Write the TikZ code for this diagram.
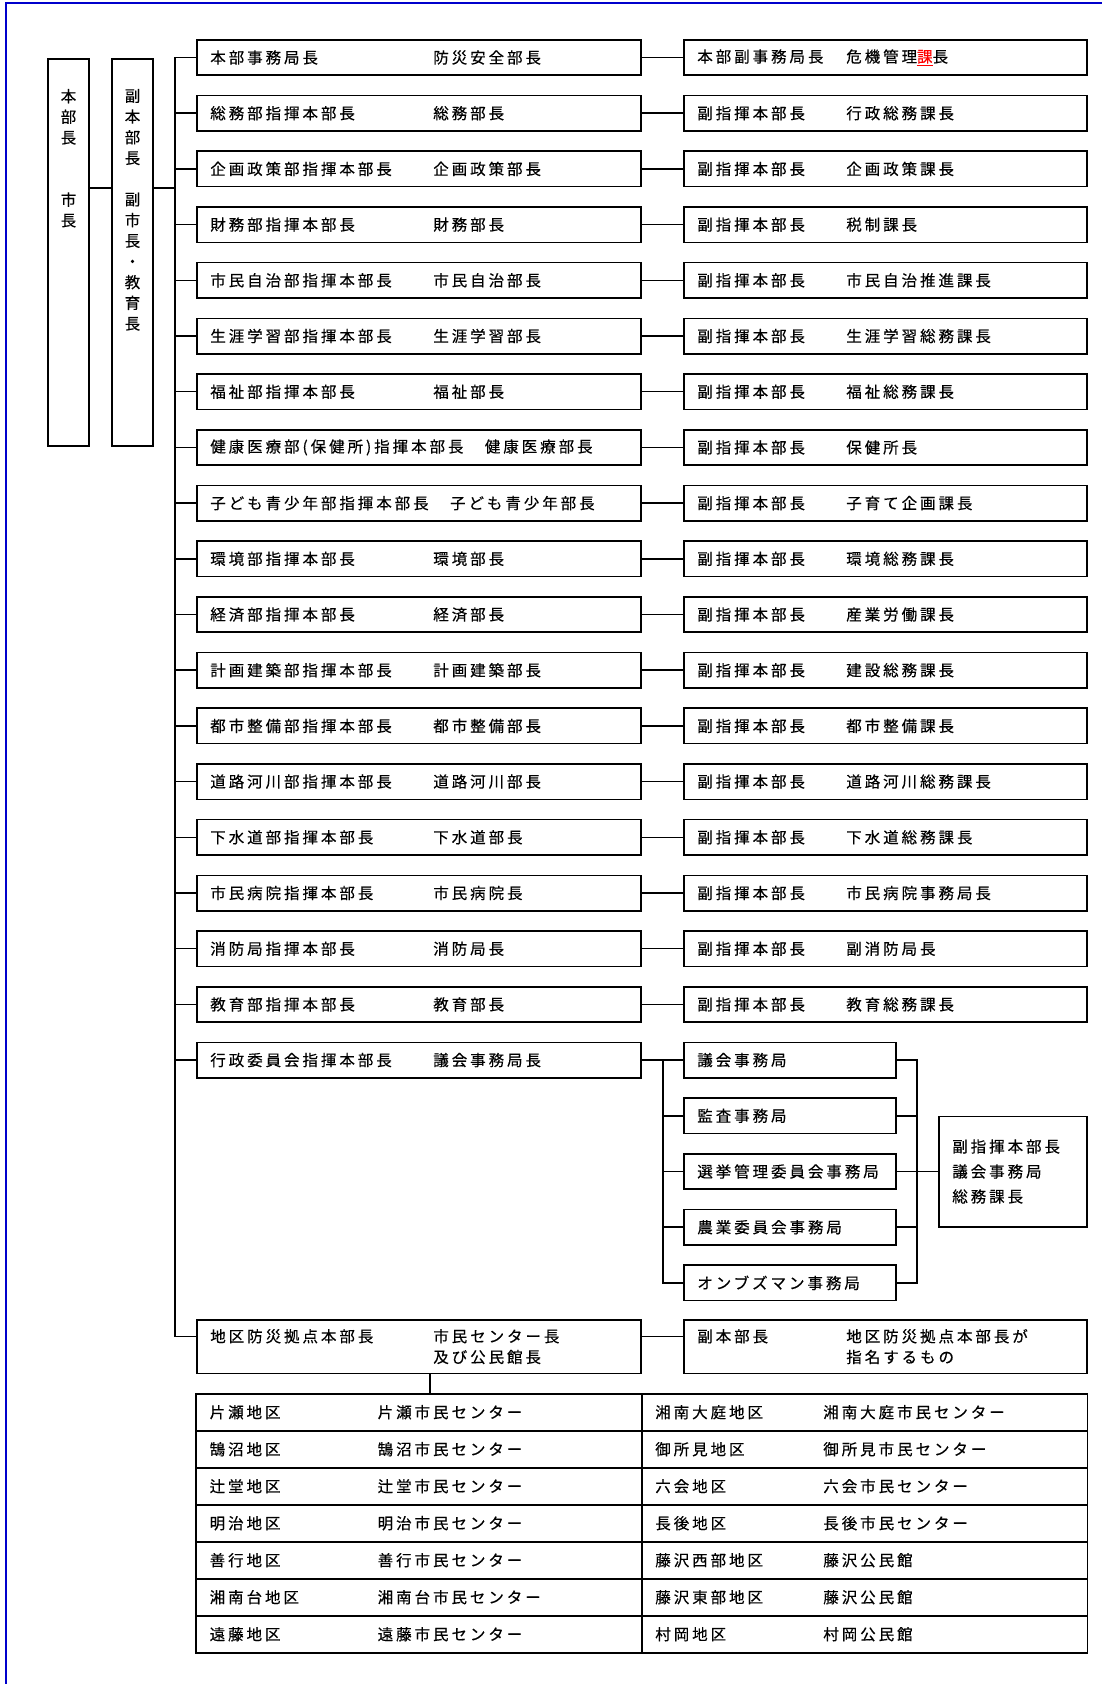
\documentclass[tikz,border=0pt]{standalone}
\usepackage{fontspec}
\newfontfamily\jp[LetterSpace=19,FakeBold=0.4]{Noto Sans CJK JP}
\usetikzlibrary{positioning}

\newcommand{\lpair}[2]{\makebox[223pt][l]{#1}#2}
\newcommand{\rpair}[2]{\makebox[149pt][l]{#1}#2}
\newcommand{\tpair}[2]{\makebox[168pt][l]{#1}#2}

\begin{document}
\begin{tikzpicture}[
  x=1pt, y=-1pt,
  font=\jp\fontsize{15.5}{20.7}\selectfont,
  box/.style={draw, line width=1.6pt, outer sep=0pt, inner ysep=0pt, inner xsep=13.5pt, minimum height=35.4pt, align=left},
  lbox/.style={box, text width=417.4pt},
  rbox/.style={box, text width=376.4pt},
  cbox/.style={box, text width=185.4pt},
  tcell/.style={box, minimum height=37pt, text width=418.6pt},
  vbox/.style={draw, line width=1.6pt, outer sep=0pt, minimum width=41.4pt, minimum height=387.4pt},
  vtext/.style={inner sep=0pt, align=center},
  edge/.style={line width=1.5pt},
  node distance=20.3pt
]
  \useasboundingbox (0,0) rectangle (1102,1684);
  \draw[line width=1.5pt, blue!80!black] (6,1684) |- (1102,3);

  % top of the chain
  \node[vbox] (hq) at (68.5,252.5) {};
  \node[vbox, right=22.6pt of hq] (dep) {};
  \node[vtext, below=30pt of hq.north] (hqtext) {本\\部\\長\\[41.4pt]市\\長};
  \node[vtext, below=30pt of dep.north] (deptext) {副\\本\\部\\長\\[20.7pt]副\\市\\長\\・\\教\\育\\長};
  \coordinate (link) at (0,188);
  \coordinate (trunk) at (175,0);

  % command heads
  \node[lbox, anchor=west] (cmd1) at (196.8,57.5) {\lpair{本部事務局長}{防災安全部長}};
  \node[lbox, below=of cmd1] (cmd2) {\lpair{総務部指揮本部長}{総務部長}};
  \node[lbox, below=of cmd2] (cmd3) {\lpair{企画政策部指揮本部長}{企画政策部長}};
  \node[lbox, below=of cmd3] (cmd4) {\lpair{財務部指揮本部長}{財務部長}};
  \node[lbox, below=of cmd4] (cmd5) {\lpair{市民自治部指揮本部長}{市民自治部長}};
  \node[lbox, below=of cmd5] (cmd6) {\lpair{生涯学習部指揮本部長}{生涯学習部長}};
  \node[lbox, below=of cmd6] (cmd7) {\lpair{福祉部指揮本部長}{福祉部長}};
  \node[lbox, below=of cmd7] (cmd8) {健康医療部(保健所)指揮本部長　健康医療部長};
  \node[lbox, below=of cmd8] (cmd9) {子ども青少年部指揮本部長　子ども青少年部長};
  \node[lbox, below=of cmd9] (cmd10) {\lpair{環境部指揮本部長}{環境部長}};
  \node[lbox, below=of cmd10] (cmd11) {\lpair{経済部指揮本部長}{経済部長}};
  \node[lbox, below=of cmd11] (cmd12) {\lpair{計画建築部指揮本部長}{計画建築部長}};
  \node[lbox, below=of cmd12] (cmd13) {\lpair{都市整備部指揮本部長}{都市整備部長}};
  \node[lbox, below=of cmd13] (cmd14) {\lpair{道路河川部指揮本部長}{道路河川部長}};
  \node[lbox, below=of cmd14] (cmd15) {\lpair{下水道部指揮本部長}{下水道部長}};
  \node[lbox, below=of cmd15] (cmd16) {\lpair{市民病院指揮本部長}{市民病院長}};
  \node[lbox, below=of cmd16] (cmd17) {\lpair{消防局指揮本部長}{消防局長}};
  \node[lbox, below=of cmd17] (cmd18) {\lpair{教育部指揮本部長}{教育部長}};
  \node[lbox, below=of cmd18] (cmd19) {\lpair{行政委員会指揮本部長}{議会事務局長}};

  % deputies
  \node[rbox, right=42.6pt of cmd1] (sub1) {\rpair{本部副事務局長}{危機管理{\color{red}\underline{課}}長}};
  \node[rbox, right=42.6pt of cmd2] (sub2) {\rpair{副指揮本部長}{行政総務課長}};
  \node[rbox, right=42.6pt of cmd3] (sub3) {\rpair{副指揮本部長}{企画政策課長}};
  \node[rbox, right=42.6pt of cmd4] (sub4) {\rpair{副指揮本部長}{税制課長}};
  \node[rbox, right=42.6pt of cmd5] (sub5) {\rpair{副指揮本部長}{市民自治推進課長}};
  \node[rbox, right=42.6pt of cmd6] (sub6) {\rpair{副指揮本部長}{生涯学習総務課長}};
  \node[rbox, right=42.6pt of cmd7] (sub7) {\rpair{副指揮本部長}{福祉総務課長}};
  \node[rbox, right=42.6pt of cmd8] (sub8) {\rpair{副指揮本部長}{保健所長}};
  \node[rbox, right=42.6pt of cmd9] (sub9) {\rpair{副指揮本部長}{子育て企画課長}};
  \node[rbox, right=42.6pt of cmd10] (sub10) {\rpair{副指揮本部長}{環境総務課長}};
  \node[rbox, right=42.6pt of cmd11] (sub11) {\rpair{副指揮本部長}{産業労働課長}};
  \node[rbox, right=42.6pt of cmd12] (sub12) {\rpair{副指揮本部長}{建設総務課長}};
  \node[rbox, right=42.6pt of cmd13] (sub13) {\rpair{副指揮本部長}{都市整備課長}};
  \node[rbox, right=42.6pt of cmd14] (sub14) {\rpair{副指揮本部長}{道路河川総務課長}};
  \node[rbox, right=42.6pt of cmd15] (sub15) {\rpair{副指揮本部長}{下水道総務課長}};
  \node[rbox, right=42.6pt of cmd16] (sub16) {\rpair{副指揮本部長}{市民病院事務局長}};
  \node[rbox, right=42.6pt of cmd17] (sub17) {\rpair{副指揮本部長}{副消防局長}};
  \node[rbox, right=42.6pt of cmd18] (sub18) {\rpair{副指揮本部長}{教育総務課長}};

  % committees
  \node[cbox, right=42.6pt of cmd19] (com1) {議会事務局};
  \node[cbox, below=of com1] (com2) {監査事務局};
  \node[cbox, below=of com2] (com3) {選挙管理委員会事務局};
  \node[cbox, below=of com3] (com4) {農業委員会事務局};
  \node[cbox, below=of com4] (com5) {オンブズマン事務局};
  \node[box, right=42.6pt of com3, minimum height=110.4pt, text width=121.4pt,
        font=\jp\fontsize{15.5}{25}\selectfont] (sec) {副指揮本部長\\議会事務局\\総務課長};
  \coordinate[right=21.8pt of cmd19.east] (split);
  \coordinate[right=20.8pt of com1.east] (merge);

  % district posts
  \node[lbox, below=242.1pt of cmd19, minimum height=53.4pt] (dist) {\lpair{地区防災拠点本部長}{市民センター長}\\\lpair{}{及び公民館長}};
  \node[rbox, right=42.6pt of dist, minimum height=53.4pt] (distsub) {\rpair{副本部長}{地区防災拠点本部長が}\\\rpair{}{指名するもの}};
  \coordinate (dtap) at ([yshift=10pt]dist.west);

  \node[tcell, below=20.4pt of dist] (ta1) {\tpair{片瀬地区}{片瀬市民センター}};
  \node[tcell, below=0pt of ta1] (ta2) {\tpair{鵠沼地区}{鵠沼市民センター}};
  \node[tcell, below=0pt of ta2] (ta3) {\tpair{辻堂地区}{辻堂市民センター}};
  \node[tcell, below=0pt of ta3] (ta4) {\tpair{明治地区}{明治市民センター}};
  \node[tcell, below=0pt of ta4] (ta5) {\tpair{善行地区}{善行市民センター}};
  \node[tcell, below=0pt of ta5] (ta6) {\tpair{湘南台地区}{湘南台市民センター}};
  \node[tcell, below=0pt of ta6] (ta7) {\tpair{遠藤地区}{遠藤市民センター}};
  \node[tcell, right=0pt of ta1] (tb1) {\tpair{湘南大庭地区}{湘南大庭市民センター}};
  \node[tcell, right=0pt of ta2] (tb2) {\tpair{御所見地区}{御所見市民センター}};
  \node[tcell, right=0pt of ta3] (tb3) {\tpair{六会地区}{六会市民センター}};
  \node[tcell, right=0pt of ta4] (tb4) {\tpair{長後地区}{長後市民センター}};
  \node[tcell, right=0pt of ta5] (tb5) {\tpair{藤沢西部地区}{藤沢公民館}};
  \node[tcell, right=0pt of ta6] (tb6) {\tpair{藤沢東部地区}{藤沢公民館}};
  \node[tcell, right=0pt of ta7] (tb7) {\tpair{村岡地区}{村岡公民館}};

  % connectors
  \draw[edge] (hq.east |- link) -- (dep.west |- link);
  \draw[edge] (dep.east |- link) -- (trunk |- link);
  \draw[edge] (cmd1) -| (trunk |- dtap) -- (dtap);
  \draw[edge] (trunk |- cmd2) -- (cmd2);
  \draw[edge] (trunk |- cmd3) -- (cmd3);
  \draw[edge] (trunk |- cmd4) -- (cmd4);
  \draw[edge] (trunk |- cmd5) -- (cmd5);
  \draw[edge] (trunk |- cmd6) -- (cmd6);
  \draw[edge] (trunk |- cmd7) -- (cmd7);
  \draw[edge] (trunk |- cmd8) -- (cmd8);
  \draw[edge] (trunk |- cmd9) -- (cmd9);
  \draw[edge] (trunk |- cmd10) -- (cmd10);
  \draw[edge] (trunk |- cmd11) -- (cmd11);
  \draw[edge] (trunk |- cmd12) -- (cmd12);
  \draw[edge] (trunk |- cmd13) -- (cmd13);
  \draw[edge] (trunk |- cmd14) -- (cmd14);
  \draw[edge] (trunk |- cmd15) -- (cmd15);
  \draw[edge] (trunk |- cmd16) -- (cmd16);
  \draw[edge] (trunk |- cmd17) -- (cmd17);
  \draw[edge] (trunk |- cmd18) -- (cmd18);
  \draw[edge] (trunk |- cmd19) -- (cmd19);

  \draw[edge] (cmd1) -- (sub1);
  \draw[edge] (cmd2) -- (sub2);
  \draw[edge] (cmd3) -- (sub3);
  \draw[edge] (cmd4) -- (sub4);
  \draw[edge] (cmd5) -- (sub5);
  \draw[edge] (cmd6) -- (sub6);
  \draw[edge] (cmd7) -- (sub7);
  \draw[edge] (cmd8) -- (sub8);
  \draw[edge] (cmd9) -- (sub9);
  \draw[edge] (cmd10) -- (sub10);
  \draw[edge] (cmd11) -- (sub11);
  \draw[edge] (cmd12) -- (sub12);
  \draw[edge] (cmd13) -- (sub13);
  \draw[edge] (cmd14) -- (sub14);
  \draw[edge] (cmd15) -- (sub15);
  \draw[edge] (cmd16) -- (sub16);
  \draw[edge] (cmd17) -- (sub17);
  \draw[edge] (cmd18) -- (sub18);

  \draw[edge] (cmd19) -- (com1);
  \draw[edge] (split |- com1) |- (com5);
  \draw[edge] (split |- com2) -- (com2);
  \draw[edge] (split |- com3) -- (com3);
  \draw[edge] (split |- com4) -- (com4);
  \draw[edge] (com1) -| (merge |- com5) -- (com5);
  \draw[edge] (com2) -- (merge |- com2);
  \draw[edge] (com4) -- (merge |- com4);
  \draw[edge] (com3) -- (sec);

  \draw[edge] ([yshift=10pt]dist.east) -- ([yshift=10pt]distsub.west);
  \draw[edge] ([xshift=11pt]dist.south) -- ([xshift=11pt]ta1.north);
\end{tikzpicture}
\end{document}
